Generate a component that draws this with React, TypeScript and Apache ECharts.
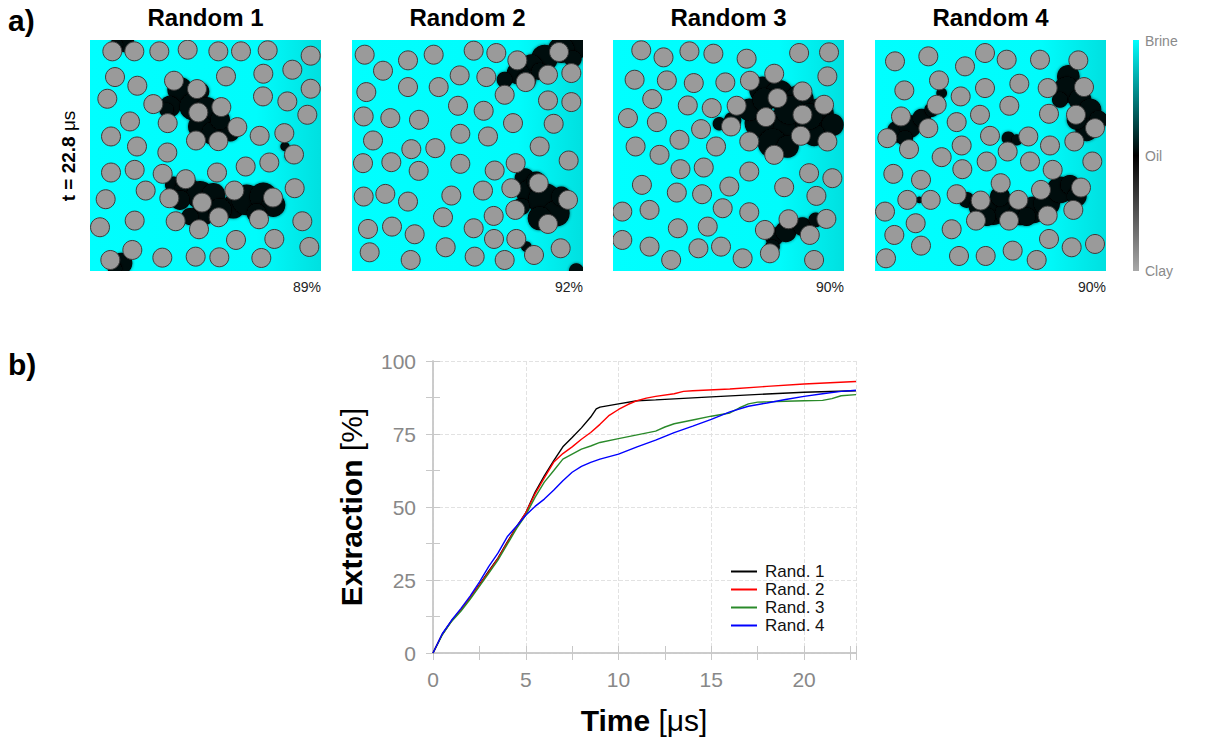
import React, { useEffect, useRef } from 'react';
import * as echarts from 'echarts';

const FONT = '"Liberation Sans", Arial, Helvetica, sans-serif';

// ---------- panel (a) data ----------
const panelTitles = ['Random 1', 'Random 2', 'Random 3', 'Random 4'];
const extractionLabels = ['89%', '92%', '90%', '90%'];
// measurement frame of each snapshot: [xLeft, xRight, yTop, yBottom]
const frames = [
  [270, 963, 121, 813],
  [37, 730, 121, 813],
  [40, 735, 121, 813],
  [45, 738, 121, 813],
];

// clay grain centres
const grains1X = [337, 403, 478, 563, 655, 723, 803, 932, 345, 412, 522, 591, 678, 790, 877, 932, 322, 460, 595, 664, 789, 862, 922, 390, 503, 712, 588, 655, 779, 853, 333, 411, 502, 882, 333, 404, 488, 557, 651, 737, 808, 437, 508, 606, 703, 819, 884, 317, 300, 404, 527, 597, 656, 777, 907, 708, 823, 928, 397, 331, 487, 587, 658, 784];
const grains1Y = [155, 155, 155, 150, 155, 155, 152, 168, 232, 258, 243, 268, 230, 222, 210, 267, 297, 313, 338, 322, 290, 305, 345, 365, 370, 382, 422, 424, 408, 400, 410, 440, 458, 464, 518, 510, 522, 538, 518, 500, 488, 572, 595, 608, 572, 593, 565, 598, 682, 662, 664, 688, 652, 658, 664, 720, 717, 741, 750, 780, 773, 770, 772, 774];
const grains2X = [75, 130, 205, 282, 402, 470, 533, 658, 360, 440, 558, 625, 695, 80, 205, 297, 495, 625, 695, 72, 152, 238, 355, 432, 520, 642, 100, 215, 287, 362, 445, 600, 70, 155, 237, 362, 465, 528, 687, 72, 137, 205, 335, 430, 515, 597, 685, 310, 462, 527, 85, 157, 225, 402, 463, 530, 625, 90, 318, 213, 405, 495, 583, 663];
const grains2Y = [165, 213, 182, 165, 153, 160, 182, 157, 227, 232, 247, 225, 220, 277, 262, 262, 285, 302, 307, 350, 355, 360, 318, 333, 370, 372, 422, 448, 445, 402, 410, 440, 490, 487, 513, 492, 512, 490, 482, 590, 582, 605, 587, 572, 565, 550, 600, 652, 648, 630, 687, 680, 703, 685, 717, 717, 672, 757, 742, 780, 770, 780, 765, 745];
const grains3X = [125, 192, 270, 342, 442, 600, 690, 105, 202, 283, 378, 452, 525, 685, 158, 265, 337, 412, 535, 610, 675, 85, 172, 305, 395, 500, 610, 108, 240, 350, 450, 525, 605, 685, 180, 243, 313, 450, 630, 700, 127, 232, 308, 390, 555, 652, 68, 150, 370, 450, 568, 682, 235, 325, 497, 632, 68, 150, 297, 365, 512, 215, 430, 645];
const grains3Y = [152, 173, 155, 162, 177, 160, 158, 240, 242, 250, 248, 243, 222, 230, 298, 317, 325, 318, 295, 275, 315, 355, 367, 388, 380, 352, 345, 440, 420, 440, 425, 465, 408, 425, 465, 508, 503, 515, 520, 535, 555, 578, 583, 560, 562, 588, 635, 630, 625, 637, 658, 657, 685, 680, 690, 705, 720, 740, 745, 740, 760, 780, 775, 780];
const grains4X = [105, 205, 315, 375, 440, 540, 655, 237, 133, 302, 375, 478, 563, 672, 230, 123, 360, 448, 567, 648, 205, 290, 390, 505, 82, 147, 305, 443, 570, 643, 705, 245, 380, 510, 578, 697, 100, 183, 307, 422, 543, 663, 142, 212, 290, 362, 475, 75, 167, 348, 447, 563, 640, 103, 275, 183, 567, 635, 705, 78, 297, 377, 458, 530];
const grains4Y = [185, 170, 200, 160, 180, 180, 182, 242, 272, 290, 265, 252, 265, 262, 315, 350, 345, 318, 342, 345, 385, 367, 408, 410, 415, 448, 437, 455, 437, 425, 385, 472, 485, 485, 510, 485, 522, 540, 508, 550, 570, 563, 600, 600, 583, 602, 600, 635, 670, 662, 662, 647, 630, 705, 688, 737, 717, 742, 732, 775, 768, 768, 752, 780];

// trapped oil patches (centre and radius, frame units)
const oil1X = [375, 350, 540, 600, 510, 580, 620, 600, 640, 690, 660, 500, 855, 868, 520, 560, 600, 640, 700, 740, 790, 820, 610, 570, 660, 770, 540, 365, 345];
const oil1Y = [130, 135, 270, 275, 320, 320, 330, 380, 400, 395, 360, 330, 440, 470, 555, 565, 585, 585, 620, 600, 590, 615, 640, 650, 630, 640, 600, 790, 805];
const oil1R = [28, 20, 38, 28, 32, 42, 38, 36, 36, 30, 30, 22, 14, 14, 25, 36, 42, 36, 36, 46, 42, 36, 36, 26, 36, 30, 30, 32, 22];
const oil2X = [715, 665, 615, 575, 535, 495, 700, 560, 600, 555, 575, 615, 650, 600, 665, 545, 590, 560, 575, 710];
const oil2Y = [140, 150, 175, 200, 220, 240, 178, 240, 215, 535, 580, 600, 640, 655, 590, 620, 545, 740, 752, 812];
const oil2R = [36, 40, 40, 36, 34, 24, 26, 30, 26, 30, 44, 50, 40, 36, 30, 26, 30, 16, 14, 22];
const oil3X = [490, 540, 600, 660, 700, 600, 540, 480, 520, 565, 450, 400, 360, 645, 495, 570, 630, 525, 560, 610, 650, 520];
const oil3Y = [270, 285, 300, 340, 375, 380, 380, 370, 430, 440, 330, 362, 372, 405, 300, 330, 350, 710, 695, 680, 660, 740];
const oil3R = [40, 44, 44, 44, 34, 50, 50, 44, 44, 34, 34, 26, 20, 34, 36, 44, 40, 28, 32, 28, 22, 22];
const oil4X = [625, 620, 600, 660, 690, 715, 680, 650, 115, 150, 185, 215, 245, 135, 445, 470, 320, 360, 400, 440, 480, 520, 560, 600, 630, 650, 420, 178, 380, 500];
const oil4Y = [230, 270, 300, 300, 330, 360, 390, 360, 395, 380, 355, 330, 280, 415, 415, 420, 600, 620, 635, 640, 640, 630, 610, 570, 555, 590, 590, 600, 650, 650];
const oil4R = [34, 40, 24, 34, 34, 28, 34, 30, 34, 34, 28, 22, 16, 24, 20, 17, 24, 34, 40, 36, 36, 40, 40, 40, 30, 30, 30, 10, 28, 28];

const grainsX = [grains1X, grains2X, grains3X, grains4X];
const grainsY = [grains1Y, grains2Y, grains3Y, grains4Y];
const oilX = [oil1X, oil2X, oil3X, oil4X];
const oilY = [oil1Y, oil2Y, oil3Y, oil4Y];
const oilR = [oil1R, oil2R, oil3R, oil4R];

// ---------- panel (b) data ----------
const seriesNames = ['Rand. 1', 'Rand. 2', 'Rand. 3', 'Rand. 4'];
const time1 = [0, 0.5, 1, 1.5, 2, 2.5, 3, 3.5, 4, 4.5, 5, 5.5, 6, 6.5, 7, 7.5, 8, 8.5, 8.8, 9, 10, 11, 12, 15, 18, 20, 22.8];
const ext1 = [0, 6.4, 11, 14.7, 18.9, 23.4, 28, 32.5, 38, 43.2, 48, 55, 60.7, 65.8, 70.6, 73.8, 77.1, 80.8, 83.6, 84.2, 85.3, 86.4, 86.7, 87.7, 88.7, 89.3, 89.8];
const time2 = [0, 0.5, 1, 1.5, 2, 2.5, 3, 3.5, 4, 4.5, 5, 5.5, 6, 6.5, 7, 7.5, 8, 8.5, 9, 9.5, 10, 10.5, 11, 11.5, 12, 13, 13.5, 14, 16, 18, 20, 22.8];
const ext2 = [0, 6.4, 11, 14.7, 18.9, 23.2, 27.7, 32.3, 37.7, 43, 48, 54.5, 60, 65.3, 68.3, 70.6, 73.2, 75.5, 78.3, 81.4, 83.4, 85.1, 86.4, 87.3, 87.9, 88.8, 89.6, 89.8, 90.4, 91.3, 92.1, 93.0];
const time3 = [0, 0.5, 1, 1.5, 2, 2.5, 3, 3.5, 4, 4.5, 5, 5.5, 6, 6.5, 7, 7.5, 8, 8.5, 9, 10, 11, 12, 12.5, 13, 14, 15, 16, 16.5, 17, 17.5, 18, 19, 20, 21, 21.5, 22, 22.8];
const ext3 = [0, 6.2, 10.8, 14.3, 18.4, 22.8, 27.3, 31.8, 37.2, 42.6, 47.2, 53.3, 58.5, 62.4, 66.4, 68.1, 69.8, 70.9, 72.1, 73.4, 74.7, 76, 77.4, 78.5, 79.8, 81.1, 82.2, 83.9, 85.3, 85.9, 86, 86.2, 86.4, 86.5, 87.1, 88.1, 88.5];
const time4 = [0, 0.5, 1, 1.5, 2, 2.5, 3, 3.5, 4, 4.5, 5, 5.5, 6, 6.5, 7, 7.5, 8, 8.5, 9, 10, 11, 12, 13, 14, 15, 16, 17, 18, 19, 20, 21, 22, 22.8];
const ext4 = [0, 6.6, 11.2, 15.2, 19.5, 24.3, 29.6, 34.2, 39.8, 43.4, 47.2, 50.2, 52.7, 55.7, 59, 61.9, 63.9, 65.3, 66.4, 68.1, 70.6, 72.9, 75.5, 77.7, 80, 82.6, 84.5, 85.6, 86.8, 87.9, 88.8, 89.6, 90];
const times = [time1, time2, time3, time4];
const exts = [ext1, ext2, ext3, ext4];
const lineColors = ['#000000', '#ff0000', '#2a8a2a', '#0000ff'];
const xTicks = { min: 0, max: 22.8, interval: 5 };
const yTicks = { min: 0, max: 100, interval: 25 };

const colorbarLabels = ['Brine', 'Oil', 'Clay'];

export default function App() {
  const ref = useRef<HTMLDivElement>(null);
  useEffect(() => {
    document.body.style.margin = '0';
    const chart = echarts.init(ref.current!, null, { renderer: 'svg' });

    const panelLeft = [90, 352, 613, 875];
    const panelTop = 40;
    const panelSize = 231;
    const frameScale = panelSize / 693;

    const brine = {
      type: 'linear', x: 0, y: 0, x2: 1, y2: 0,
      colorStops: [
        { offset: 0, color: '#00ffff' },
        { offset: 0.72, color: '#00fcfc' },
        { offset: 1, color: '#00e0e0' },
      ],
    };

    const grids: any[] = [];
    const xAxes: any[] = [];
    const yAxes: any[] = [];
    const series: any[] = [];
    const graphics: any[] = [];
    const mask = (x: number, y: number, w: number, h: number) => ({
      type: 'rect', z: 100, silent: true, shape: { x, y, width: w, height: h }, style: { fill: '#ffffff' },
    });

    for (let i = 0; i < 4; i++) {
      grids.push({
        left: panelLeft[i], top: panelTop, width: panelSize, height: panelSize,
        show: true, borderWidth: 0, backgroundColor: brine,
      });
      xAxes.push({ gridIndex: i, type: 'value', min: frames[i][0], max: frames[i][1], show: false });
      yAxes.push({ gridIndex: i, type: 'value', min: frames[i][2], max: frames[i][3], inverse: true, show: false });
      series.push({
        type: 'scatter', xAxisIndex: i, yAxisIndex: i, silent: true, clip: false, z: 2,
        data: oilX[i].map((x, k) => [x, oilY[i][k], oilR[i][k]]),
        symbolSize: (d: number[]) => d[2] * 2 * frameScale,
        itemStyle: { color: '#020707', opacity: 1, shadowBlur: 3, shadowColor: 'rgba(0,0,0,0.6)' },
      });
      series.push({
        type: 'scatter', xAxisIndex: i, yAxisIndex: i, silent: true, clip: false, z: 3,
        data: grainsX[i].map((x, k) => [x, grainsY[i][k]]),
        symbolSize: 19,
        itemStyle: { color: '#9a9a9a', borderColor: '#3c3c3c', borderWidth: 1, opacity: 1 },
      });
      // white margins that crop patches and grains at the snapshot border
      const L = panelLeft[i];
      graphics.push(
        mask(L - 16, 0, panelSize + 32, panelTop),
        mask(L - 16, panelTop + panelSize, panelSize + 32, 30),
        mask(L - 16, panelTop - 1, 16, panelSize + 2),
        mask(L + panelSize, panelTop - 1, 16, panelSize + 2),
      );
      graphics.push({
        type: 'text', z: 110, x: L + panelSize / 2, y: 17,
        style: { text: panelTitles[i], fontSize: 24, fontWeight: 'bold', fontFamily: FONT, fill: '#000', align: 'center', verticalAlign: 'middle' },
      });
      graphics.push({
        type: 'text', z: 110, x: L + panelSize, y: 287,
        style: { text: extractionLabels[i], fontSize: 14, fontFamily: FONT, fill: '#222', align: 'right', verticalAlign: 'middle' },
      });
    }

    // line chart
    const g = 4;
    grids.push({ left: 433, top: 361, width: 423, height: 292 });
    const axisCommon = {
      type: 'value',
      axisLine: { show: true, lineStyle: { color: '#c8c8c8', width: 1.5 } },
      axisTick: { show: true, inside: true, length: 7, lineStyle: { color: '#c8c8c8', width: 1 } },
      minorTick: { show: true, splitNumber: 2, length: 7, lineStyle: { color: '#c8c8c8', width: 1 } },
    };
    xAxes.push({
      ...axisCommon, gridIndex: g, position: 'bottom', ...xTicks,
      axisLabel: { fontSize: 21, color: '#888', fontFamily: FONT, margin: 16, showMaxLabel: false },
      splitLine: { show: true, lineStyle: { color: '#e2e2e2', type: 'dashed', width: 1 } },
    });
    xAxes.push({
      ...axisCommon, gridIndex: g, position: 'top', ...xTicks,
      axisLabel: { show: false }, splitLine: { show: false },
    });
    yAxes.push({
      ...axisCommon, gridIndex: g, position: 'left', ...yTicks,
      axisLabel: { fontSize: 21, color: '#888', fontFamily: FONT, margin: 17 },
      splitLine: { show: true, lineStyle: { color: '#e2e2e2', type: 'dashed', width: 1 } },
    });
    yAxes.push({
      ...axisCommon, gridIndex: g, position: 'right', ...yTicks,
      axisLabel: { show: false }, splitLine: { show: false },
    });
    for (let s = 0; s < 4; s++) {
      series.push({
        type: 'line', name: seriesNames[s], xAxisIndex: 4, yAxisIndex: 4, z: 5,
        data: times[s].map((t, k) => [t, exts[s][k]]),
        showSymbol: false, symbol: 'none', smooth: false,
        lineStyle: { color: lineColors[s], width: 1.4 },
        itemStyle: { color: lineColors[s] },
      });
    }

    // labels
    graphics.push(
      { type: 'text', z: 110, x: 8, y: 20, style: { text: 'a)', fontSize: 30, fontWeight: 'bold', fontFamily: FONT, fill: '#000', verticalAlign: 'middle' } },
      { type: 'text', z: 110, x: 8, y: 364, style: { text: 'b)', fontSize: 30, fontWeight: 'bold', fontFamily: FONT, fill: '#000', verticalAlign: 'middle' } },
      {
        type: 'text', z: 110, x: 68, y: 156, rotation: Math.PI / 2,
        style: {
          text: '{b|t = 22.8 }{r|μs}', align: 'center', verticalAlign: 'middle',
          rich: {
            b: { fontSize: 19, fontWeight: 'bold', fontFamily: FONT, fill: '#000' },
            r: { fontSize: 19, fontFamily: FONT, fill: '#000' },
          },
        },
      },
      {
        type: 'rect', z: 110, shape: { x: 1133, y: 40, width: 6, height: 231 },
        style: {
          fill: {
            type: 'linear', x: 0, y: 0, x2: 0, y2: 1,
            colorStops: [
              { offset: 0, color: '#00ffff' },
              { offset: 0.5, color: '#000000' },
              { offset: 1, color: '#a8a8a8' },
            ],
          },
        },
      },
      ...colorbarLabels.map((t, k) => ({
        type: 'text', z: 110, x: 1145, y: [41, 156, 271][k],
        style: { text: t, fontSize: 14, fontFamily: FONT, fill: '#8a8a8a', verticalAlign: 'middle' },
      })),
      {
        type: 'text', x: 351, y: 507, rotation: Math.PI / 2,
        style: {
          text: '{b|Extraction}{r| [%]}', align: 'center', verticalAlign: 'middle',
          rich: {
            b: { fontSize: 30, fontWeight: 'bold', fontFamily: FONT, fill: '#000' },
            r: { fontSize: 30, fontFamily: FONT, fill: '#000' },
          },
        },
      },
      {
        type: 'text', x: 644, y: 720,
        style: {
          text: '{b|Time}{r| [μs]}', align: 'center', verticalAlign: 'middle',
          rich: {
            b: { fontSize: 30, fontWeight: 'bold', fontFamily: FONT, fill: '#000' },
            r: { fontSize: 30, fontFamily: FONT, fill: '#000' },
          },
        },
      },
    );

    chart.setOption({
      animation: false,
      backgroundColor: '#ffffff',
      grid: grids,
      xAxis: xAxes,
      yAxis: yAxes,
      series,
      legend: {
        data: seriesNames, orient: 'vertical', left: 726, top: 558,
        icon: 'rect', itemWidth: 26, itemHeight: 2, itemGap: 1, selectedMode: false,
        textStyle: { fontSize: 17, color: '#111', fontFamily: FONT, padding: [0, 0, 0, 3] },
      },
      graphic: graphics,
    });
    return () => chart.dispose();
  }, []);
  return <div ref={ref} style={{ width: 1208, height: 744 }} />;
}
